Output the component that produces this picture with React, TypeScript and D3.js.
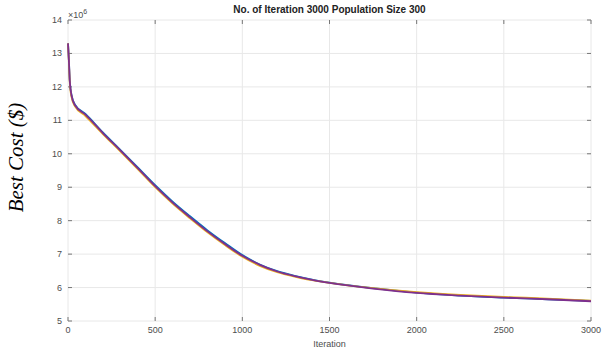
import React from "react";
import * as d3 from "d3";

const iterations = [0, 5, 10, 20, 40, 100, 200, 300, 400, 500, 600, 700, 800, 900, 1000, 1100, 1200, 1300, 1400, 1500, 1750, 2000, 2250, 2500, 2750, 3000];

// best cost (x 10^6) for each run
const runBlue = [13.3, 12.8, 12.2, 11.76, 11.47, 11.19, 10.64, 10.12, 9.59, 9.06, 8.57, 8.13, 7.71, 7.33, 6.97, 6.69, 6.49, 6.35, 6.24, 6.15, 5.98, 5.85, 5.76, 5.7, 5.65, 5.6];
const runOrange = [13.3, 12.75, 12.15, 11.7, 11.42, 11.13, 10.59, 10.07, 9.54, 9.0, 8.51, 8.07, 7.65, 7.27, 6.92, 6.65, 6.46, 6.33, 6.22, 6.14, 5.98, 5.86, 5.78, 5.72, 5.67, 5.61];
const runPurple = [13.3, 12.8, 12.2, 11.75, 11.45, 11.17, 10.62, 10.1, 9.57, 9.03, 8.54, 8.1, 7.68, 7.3, 6.95, 6.68, 6.48, 6.34, 6.23, 6.14, 5.97, 5.84, 5.76, 5.7, 5.65, 5.59];

const runs = [
  { values: runBlue, color: "#0072BD" },
  { values: runOrange, color: "#EDB120" },
  { values: runPurple, color: "#7E2F8E" },
];

const xTicks = [0, 500, 1000, 1500, 2000, 2500, 3000];
const yTicks = [5, 6, 7, 8, 9, 10, 11, 12, 13, 14];

const width = 603;
const height = 350;
const margin = { top: 20, right: 12, bottom: 29, left: 68 };

const App = () => {
  const x = d3
    .scaleLinear()
    .domain([0, 3000])
    .range([margin.left, width - margin.right]);
  const y = d3
    .scaleLinear()
    .domain([5, 14])
    .range([height - margin.bottom, margin.top]);

  const line = d3
    .line<number>()
    .x((d, i) => x(iterations[i]))
    .y(d => y(d))
    .curve(d3.curveMonotoneX);

  const font = "'Liberation Sans', Arial, sans-serif";
  const tickLen = 4;

  return (
    <svg width={width} height={height} style={{ position: "absolute", left: 0, top: 0 }}>
      <rect width={width} height={height} fill="#fff" />
      {/* grid */}
      {xTicks.map(t => (
        <line key={"gx" + t} x1={x(t)} x2={x(t)} y1={y(14)} y2={y(5)} stroke="#e8e8e8" strokeWidth={1} />
      ))}
      {yTicks.map(t => (
        <line key={"gy" + t} x1={x(0)} x2={x(3000)} y1={y(t)} y2={y(t)} stroke="#e8e8e8" strokeWidth={1} />
      ))}
      {/* ticks on all sides */}
      {xTicks.map(t => (
        <g key={"tx" + t} stroke="#777" strokeWidth={1}>
          <line x1={x(t)} x2={x(t)} y1={y(5)} y2={y(5) - tickLen} />
          <line x1={x(t)} x2={x(t)} y1={y(14)} y2={y(14) + tickLen} />
        </g>
      ))}
      {yTicks.map(t => (
        <g key={"ty" + t} stroke="#777" strokeWidth={1}>
          <line x1={x(0)} x2={x(0) + tickLen} y1={y(t)} y2={y(t)} />
          <line x1={x(3000)} x2={x(3000) - tickLen} y1={y(t)} y2={y(t)} />
        </g>
      ))}
      {/* runs */}
      {runs.map(r => (
        <path key={r.color} d={line(r.values) || ""} fill="none" stroke={r.color} strokeWidth={1.8} />
      ))}
      {/* tick labels */}
      {xTicks.map(t => (
        <text key={"lx" + t} x={x(t)} y={y(5) + 12} textAnchor="middle" fontFamily={font} fontSize={9} fill="#4d4d4d">
          {t}
        </text>
      ))}
      {yTicks.map(t => (
        <text key={"ly" + t} x={x(0) - 6} y={y(t) + 3} textAnchor="end" fontFamily={font} fontSize={9} fill="#4d4d4d">
          {t}
        </text>
      ))}
      <text x={x(0)} y={y(14) - 2} fontFamily={font} fontSize={9} fill="#4d4d4d">
        ×10
        <tspan dy={-4} fontSize={7}>6</tspan>
      </text>
      <text x={(x(0) + x(3000)) / 2} y={height - 3} textAnchor="middle" fontFamily={font} fontSize={9} fill="#4d4d4d">
        Iteration
      </text>
      <text x={(x(0) + x(3000)) / 2} y={13} textAnchor="middle" fontFamily={font} fontSize={10} fontWeight="bold" fill="#222">
        No. of Iteration 3000 Population Size 300
      </text>
      <text
        transform={`translate(23, ${(y(5) + y(14)) / 2 - 13}) rotate(-90)`}
        textAnchor="middle"
        fontFamily="'Liberation Serif', 'DejaVu Serif', serif"
        fontStyle="italic"
        fontSize={21}
        fill="#000"
      >
        Best Cost ($)
      </text>
    </svg>
  );
};

export default App;
